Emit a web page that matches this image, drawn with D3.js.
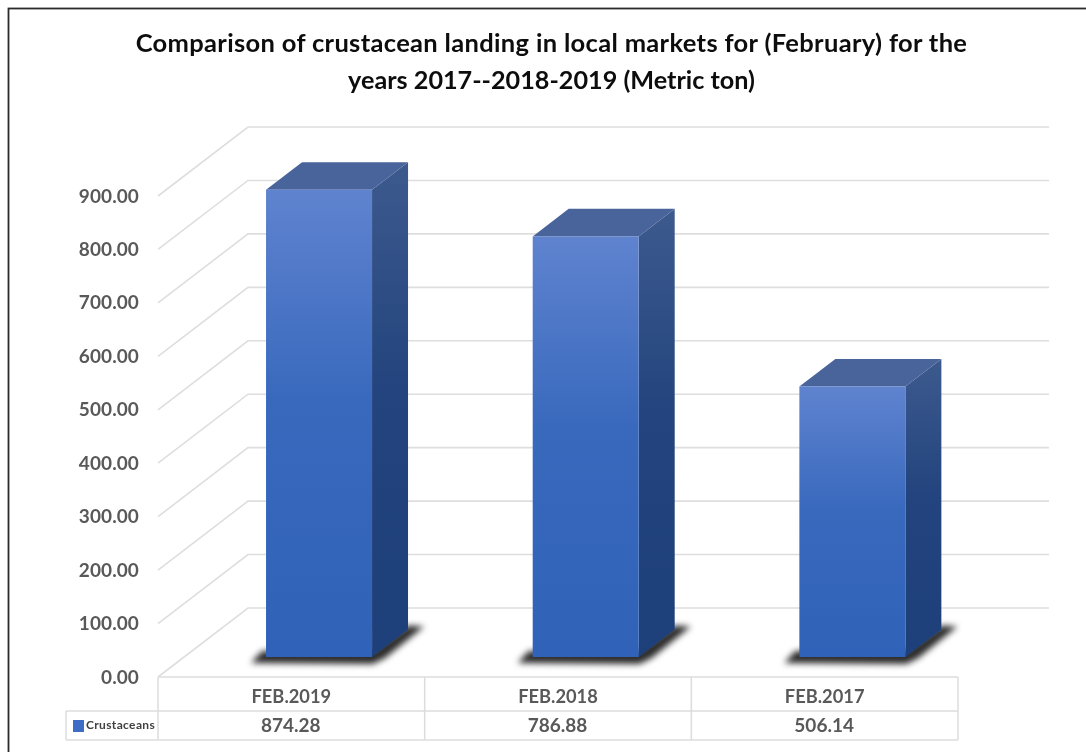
<!DOCTYPE html>
<html><head><meta charset="utf-8">
<script src="https://cdn.jsdelivr.net/npm/d3@7"></script>
<style>html,body{margin:0;padding:0;background:#fff;overflow:hidden}
svg{display:block;filter:blur(0.6px)}
text{font-family:Lato,"Open Sans",sans-serif;font-weight:700}
</style></head><body><svg id="c" width="1086" height="752"></svg>
<script>
const categories=["FEB.2019","FEB.2018","FEB.2017"];
const values=[874.28,786.88,506.14];
const yTicks=[0,100,200,300,400,500,600,700,800,900];
const seriesName="Crustaceans";
const titleLines=["Comparison of crustacean landing in local markets for (February) for the","years 2017--2018-2019 (Metric ton)"];

const svg=d3.select("#c");
const defs=svg.append("defs");
const grad=(id,a,b)=>{const g=defs.append("linearGradient").attr("id",id).attr("x1",0).attr("x2",0).attr("y1",0).attr("y2",1);
 g.append("stop").attr("offset","0").attr("stop-color",a);
 g.append("stop").attr("offset","0.45").attr("stop-color",d3.interpolateRgb(a,b)(0.8));
 g.append("stop").attr("offset","1").attr("stop-color",b);};
grad("front","#5f83cf","#2f62b8");
grad("side","#3d5a8e","#1d3f7a");

svg.append("rect").attr("x",8.5).attr("y",8.5).attr("width",1100).attr("height",790).attr("fill","#fff").attr("stroke","#2b2b2b").attr("stroke-width",1.8);

const x=d3.scaleBand().domain(categories).range([158,958]);
const y=d3.scaleLinear().domain([0,900]).range([677,196]);
const depthX=90, depthY=-69;
const proj=(px,py,f)=>[px+depthX*f,py+depthY*f];

// title
svg.append("g").selectAll("text").data(titleLines).join("text")
 .attr("x",551.5).attr("y",(d,i)=>52+i*36.5).attr("text-anchor","middle")
 .attr("font-size",(d,i)=>i?25.2:25.5).attr("letter-spacing",(d,i)=>i?0:0.33).attr("fill","#0d0d0d").text(d=>d);

// walls
const grid=svg.append("g").attr("fill","none").attr("stroke","#dedede").attr("stroke-width",1.6);
yTicks.forEach(t=>{
 const a=[158,y(t)],b=proj(158,y(t),1),c=[1049,b[1]];
 grid.append("polyline").attr("points",[a,b,c].map(p=>p.join(",")).join(" "));
});

// y labels
svg.append("g").selectAll("text").data(yTicks).join("text")
 .attr("x",139).attr("y",t=>y(t)+6.5).attr("text-anchor","end")
 .attr("font-size",19).attr("letter-spacing",0.1).attr("fill","#595959").text(t=>t.toFixed(2));

// bars
const barW=106, f0=0.29, f1=0.69;
const bars=svg.append("g").selectAll("g").data(categories).join("g");
bars.each(function(cat,i){
 const g=d3.select(this),v=values[i];
 const left=x(cat)+x.bandwidth()/2-53-24.5+depthX*f0;
 const pt=(px,val,f)=>proj(px,y(val),f);
 const poly=(pts)=>pts.map(p=>p.join(",")).join(" ");
 const r=left+barW;
 const L=pt(left,0,f0)[0], R=pt(r,0,f0)[0], b0=pt(left,0,f0)[1], b1=pt(left,0,f1)[1];
 // shadow
 g.append("polygon").style("filter","blur(3px)").attr("fill","#2a2a2a")
  .attr("points",poly([[L-15,b0+6],[L-4,b0-6],[R,b0-6],[R+36,b1-4],[R+52,b1-3],[R+13,b0+1],[R+1,b0+7]]));
 // side
 g.append("polygon").attr("fill","url(#side)")
  .attr("points",poly([pt(r,0,f0),pt(r,v,f0),pt(r,v,f1),pt(r,0,f1)]));
 // top
 g.append("polygon").attr("fill","#49639b")
  .attr("points",poly([pt(left,v,f0),pt(r,v,f0),pt(r,v,f1),pt(left,v,f1)]));
 // front
 const tl=pt(left,v,f0),br=pt(r,0,f0);
 g.append("rect").attr("x",tl[0]).attr("y",tl[1]).attr("width",barW).attr("height",br[1]-tl[1]).attr("fill","url(#front)");
});

// data table
const tb=svg.append("g");
const rowY=[677,711,740];
const tStroke="#dcdcdc";
const hl=(x1,x2,yy)=>tb.append("line").attr("x1",x1).attr("x2",x2).attr("y1",yy).attr("y2",yy).attr("stroke",tStroke).attr("stroke-width",1.5);
const vl=(xx,y1,y2)=>tb.append("line").attr("x1",xx).attr("x2",xx).attr("y1",y1).attr("y2",y2).attr("stroke",tStroke).attr("stroke-width",1.5);
hl(158,958,rowY[0]);hl(66,958,rowY[1]);hl(66,958,rowY[2]);vl(66,rowY[1],rowY[2]);vl(158,rowY[0],rowY[2]);
categories.forEach((c,i)=>{
 const xr=x(c)+x.bandwidth();
 vl(xr,rowY[0],rowY[2]);
 const xm=x(c)+x.bandwidth()/2;
 tb.append("text").attr("x",xm).attr("y",703).attr("text-anchor","middle").attr("font-size",18.3).attr("fill","#595959").text(c);
 tb.append("text").attr("x",xm-0.5).attr("y",731.5).attr("text-anchor","middle").attr("font-size",19).attr("fill","#595959").text(values[i].toFixed(2));
});
tb.append("rect").attr("x",73).attr("y",720).attr("width",11).attr("height",12).attr("fill","#3f6cc4");
tb.append("text").attr("x",86).attr("y",729).attr("font-size",12).attr("letter-spacing",0.35).attr("fill","#404040").text(seriesName);
</script></body></html>
